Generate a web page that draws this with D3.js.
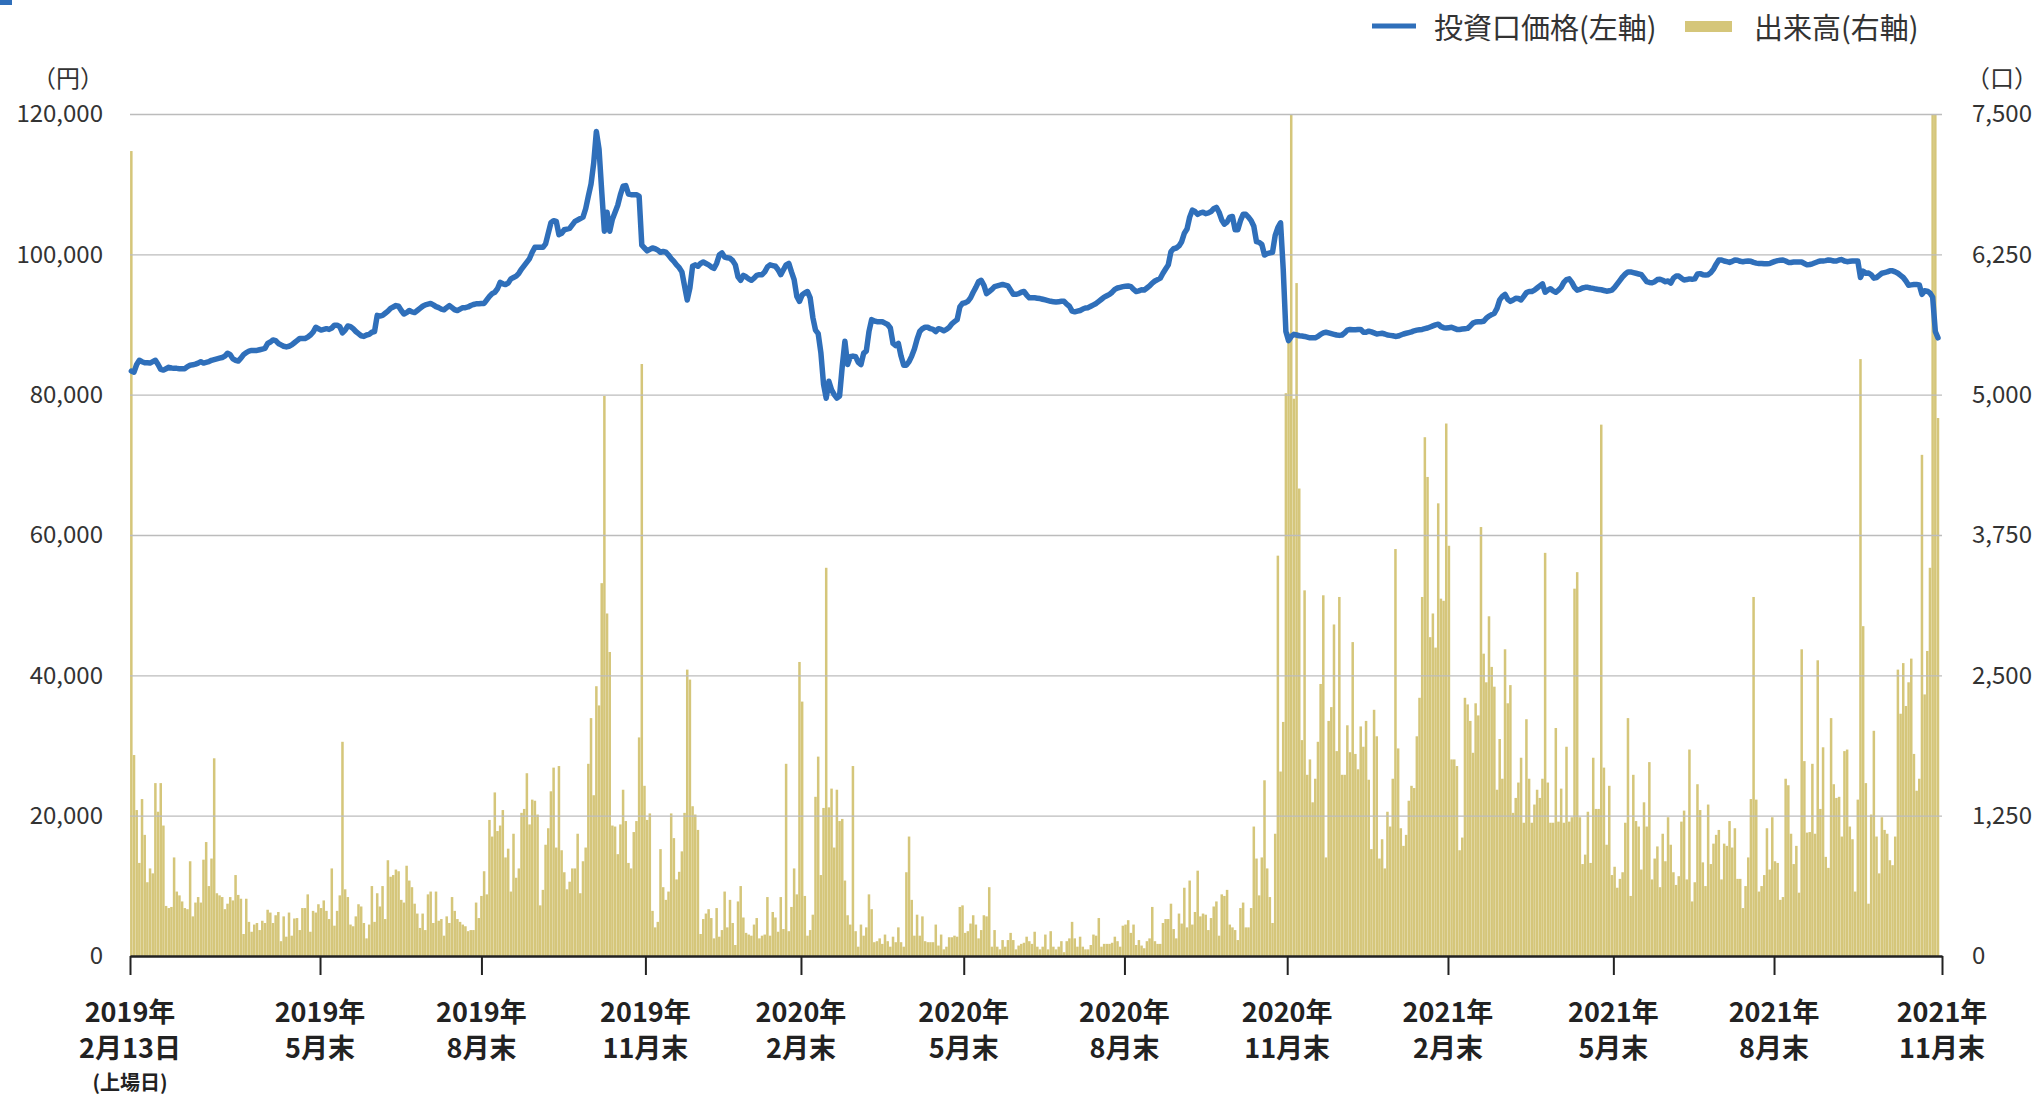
<!DOCTYPE html>
<html><head><meta charset="utf-8">
<script src="https://cdn.jsdelivr.net/npm/d3@7"></script>
<style>body{margin:0;background:#fff;} svg{display:block;}</style>
</head><body><svg id="c" width="2037" height="1096"></svg>
<script>
// ---- data (one entry per trading day, 2019-02-13 .. 2021-11-30) ----
const volume = [
7170,1790,1300,829,1398,1079,657,780,736,1540,
1285,1540,1162,446,427,437,878,574,540,486,
427,417,844,353,476,525,476,858,1015,623,
868,1761,559,540,525,417,466,525,495,721,
544,510,196,510,304,216,280,294,231,314,
294,412,387,294,363,392,132,353,172,387,
181,334,338,231,427,427,549,216,402,387,
461,427,495,402,329,780,270,402,540,1908,
594,525,280,265,353,461,441,294,157,280,
623,304,559,441,623,329,853,706,721,770,
755,500,476,804,672,613,466,378,250,378,
231,549,574,294,
574,314,329,181,353,294,525,402,329,304,
280,265,221,231,231,476,338,535,755,549,
1212,1064,1457,1113,1162,1300,878,956,574,1089,
697,780,1275,1310,1628,1172,1393,1383,1260,451,
589,991,1138,1467,1678,966,1692,942,746,594,
662,780,780,1089,559,844,966,1712,2119,1432,
2403,2232,3321,4988,3051,2708,1162,1153,907,1172,
1481,1202,829,780,1104,1202,1947,5273,1516,1212,
1270,402,255,304,952,613,500,574,1270,1050,
682,750,932,1275,2551,2462,1334,1260,1123,196,
329,378,417,338,157,427,172,231,574,255,
500,294,98,486,
623,343,
206,191,181,280,338,157,181,191,525,181,
392,343,216,525,240,1712,221,437,780,549,
2619,2266,535,181,231,368,1418,1776,721,1319,
3458,1324,1491,966,1481,1202,1221,672,363,280,
1692,221,83,280,181,255,549,417,123,132,
157,108,191,132,83,172,123,255,123,83,
746,1064,500,181,368,181,353,132,123,123,
123,280,93,191,59,83,167,167,181,172,
437,451,206,221,289,363,280,157,231,363,
353,613,83,231,83,59,142,83,142,206,
142,59,93,108,118,172,132,108,216,83,
59,83,191,59,
221,83,
59,83,132,34,132,157,304,157,83,172,
83,59,59,98,191,181,338,83,108,108,
108,118,172,132,83,270,280,319,206,280,
98,142,93,69,132,157,437,132,108,108,
294,329,329,466,240,157,378,289,608,255,
672,280,392,760,353,378,368,231,338,441,
486,181,549,535,589,280,255,231,142,427,
476,255,255,427,1153,868,540,878,1565,780,
525,294,1089,3566,1643,2085,5013,5553,7500,4964,
5994,4164,1923,3257,1614,1751,1369,1579,1908,2423,
3213,878,2094,2217,2953,1825,3198,1614,1614,2055,
1815,2796,1800,1663,
2045,1864,2094,1570,952,2193,1957,868,1040,780,
1285,1153,1579,3625,1849,1138,981,1079,1383,1516,
1496,1957,2300,3198,4621,4267,2840,3051,2747,4032,
3183,3164,4743,3654,1751,1751,1692,942,1055,2300,
2241,2094,1810,2251,2143,3821,2693,2438,3026,2575,
2399,1481,1933,1579,2732,2251,2413,1275,1408,1545,
1766,1187,2109,1579,1187,1349,1481,1408,1579,3591,
1545,1187,1187,2031,1197,1491,1187,1864,1197,1236,
3272,3419,1236,819,903,1285,829,1766,1310,1310,
4733,1678,991,1516,721,795,608,687,746,1187,
2119,535,1614,1202,1153,770,1369,1153,1727,682,
868,976,613,1089,844,1236,
991,746,633,711,1197,1295,682,1839,486,657,
1530,1300,834,623,1349,819,1001,1079,1123,682,
1001,981,1202,966,1138,687,687,427,623,878,
1398,3198,1393,574,623,721,1138,770,1236,844,
829,500,525,1579,1521,1089,819,981,564,2732,
1736,1099,1104,1712,1089,2634,1310,1859,883,785,
2119,1530,1408,1418,1064,1825,1839,1153,1040,574,
1393,5317,2938,1540,466,1260,2006,1064,736,1236,
1123,1089,853,809,1064,2551,2158,2609,2227,2438,
2649,1800,1472,1579,4464,2330,2717,3458,7500,7500,
4792
];
const price = [
83370,83200,84300,84900,84700,84550,84550,84500,84700,84900,
84300,83600,83500,83700,83900,83800,83750,83750,83700,83700,
83700,84000,84200,84250,84350,84500,84700,84500,84600,84700,
84900,85000,85100,85200,85300,85500,85900,85700,85100,84900,
84800,85200,85700,86000,86200,86300,86300,86300,86400,86500,
86600,87300,87500,87800,87700,87300,87100,86900,86800,86900,
87100,87400,87700,88000,88000,88000,88200,88500,88900,89600,
89400,89200,89300,89400,89300,89500,89900,89900,89700,88800,
89200,89800,89700,89400,89000,88700,88400,88300,88500,88600,
88900,89000,91300,91200,91300,91600,91900,92300,92500,92700,
92600,92000,91500,91700,92000,91800,91700,92000,92300,92600,
92800,92900,93000,92800,
92550,92400,92200,92100,92400,92700,92400,92100,92000,92200,
92400,92400,92500,92700,92850,92950,92950,93000,93000,93500,
94000,94400,94600,95100,96000,95800,95700,95900,96500,96700,
96900,97300,97900,98400,98900,99400,100300,101000,101000,101000,
101000,101500,103000,104500,104800,104700,102800,103000,103500,103600,
103700,104200,104700,104900,105100,105300,106500,108300,110000,113000,
117500,115000,109000,103300,106000,103300,105000,106000,107000,108500,
109700,109800,108600,108500,108500,108500,108300,101300,100900,100500,
100700,100900,100800,100600,100300,100400,100300,99900,99400,99000,
98500,98100,97500,95500,93500,95200,98300,98500,98300,98700,
98900,98700,98500,98200,98000,98700,99900,100200,99600,99500,
99450,99100,98500,96800,
96300,97000,96800,96500,96300,96600,97000,97100,97100,97500,
98200,98500,98400,98300,97800,97100,97800,98500,98700,97500,
96400,94000,93300,94200,94500,94700,93800,91000,89200,88700,
86000,81500,79500,81900,80700,80000,79500,79800,84000,87600,
84300,85400,85500,85400,84600,84300,85900,86200,89000,90700,
90500,90400,90400,90400,90200,90000,89500,87300,87000,87300,
85500,84200,84200,84700,85500,86500,87900,89000,89400,89600,
89600,89400,89300,89000,89400,89300,89100,89300,89600,90100,
90400,90700,92500,93000,93100,93300,93800,94600,95300,96100,
96300,95600,94400,94700,95000,95400,95500,95600,95700,95600,
95500,94900,94300,94300,94400,94600,94700,94200,93800,93800,
93800,93750,93700,93600,93500,93400,
93300,93250,93200,93250,93300,93300,92900,92600,91900,91800,
91900,92000,92200,92350,92400,92600,92800,93000,93300,93600,
93900,94100,94300,94600,95000,95200,95300,95400,95450,95500,
95400,95000,94700,94800,94950,94900,95200,95500,95900,96200,
96400,96600,97300,97900,98500,100400,100800,100900,101200,101800,
103000,103600,105300,106300,106100,105700,105900,106000,105800,105900,
106100,106500,106700,106000,104900,104300,104600,105300,105400,103500,
103500,104800,105700,105700,105300,104800,104000,101800,101700,101400,
99900,100100,100200,100300,102700,103800,104500,97900,89000,87700,
88300,88600,88500,88400,88350,88300,88200,88100,88100,88100,
88300,88600,88800,88900,88800,88700,88600,88500,88450,88500,
88800,89200,89300,89250,89250,89300,
89300,88900,88900,89050,88950,88800,88650,88700,88750,88650,
88500,88450,88400,88300,88350,88500,88650,88750,88850,88950,
89100,89200,89250,89300,89400,89500,89650,89800,89950,90050,
89700,89550,89500,89550,89600,89450,89300,89300,89350,89400,
89450,89800,90200,90350,90400,90400,90450,90900,91200,91400,
91600,92300,93500,94000,94300,93600,93300,93500,93750,93700,
93500,94000,94550,94700,94700,94900,95200,95500,95800,94600,
94900,95100,94800,94600,94900,95300,96000,96400,96500,96000,
95300,94900,95000,95200,95300,95300,95200,95150,95050,95000,
94950,94850,94750,94800,94900,95300,95800,96300,96800,97200,
97500,97500,97400,97300,97200,97100,96600,96100,96000,95950,
96100,96400,96450,96300,96100,96200,
95900,96600,96900,96900,96600,96350,96400,96500,96450,96500,
97200,97250,97100,97050,97100,97400,97900,98600,99200,99200,
99050,98950,98850,99000,99200,99150,99000,98950,99000,99050,
99000,98850,98750,98700,98700,98650,98650,98700,98850,99000,
99100,99150,99200,99050,98850,98850,98900,98900,98900,98900,
98700,98500,98550,98650,98800,98950,99050,99050,99100,99200,
99150,99050,99050,99200,99250,99050,98950,99000,99050,99050,
99050,96700,97600,97300,97350,97100,96600,96700,97000,97300,
97400,97500,97650,97650,97500,97300,97000,96700,96200,95600,
95650,95700,95700,95650,94300,94800,94750,94500,93900,89000,
88100
];
// month-end tick positions, measured in trading days from the listing date
const tickIndex = [0, 71.1, 131.5, 192.85, 251.06, 311.96, 372.09, 432.99, 493.15, 555.03, 615.15, 678];
const tickLabels = [
  ["2019年","2月13日","(上場日)"],["2019年","5月末"],["2019年","8月末"],["2019年","11月末"],
  ["2020年","2月末"],["2020年","5月末"],["2020年","8月末"],["2020年","11月末"],
  ["2021年","2月末"],["2021年","5月末"],["2021年","8月末"],["2021年","11月末"]
];
const priceTicks = [0,20000,40000,60000,80000,100000,120000];
const volumeTicks = [0,1250,2500,3750,5000,6250,7500];
const seriesNames = ["投資口価格(左軸)","出来高(右軸)"];
const units = ["（円）","（口）"];

// ---- drawing ----
const svg = d3.select("#c");
const L = 130, R = 1942, T = 114, B = 956;
const colLine = "#2f6fba", colBar = "#d5c67a";
const fontNum = "'Noto Sans CJK JP','Noto Sans',sans-serif";

const x = d3.scaleLinear().domain([0, 678]).range([L, R]);
const yL = d3.scaleLinear().domain([0, 120000]).range([B, T]);
const yR = d3.scaleLinear().domain([0, 7500]).range([B, T]);

svg.append("rect").attr("x",0).attr("y",0).attr("width",12).attr("height",5).attr("fill",colLine);

// bars
const bw = x(1) - x(0);
svg.append("g").selectAll("rect").data(volume).join("rect")
  .attr("x", (d,i) => x(i) + 0.08)
  .attr("width", bw - 0.16)
  .attr("y", d => yR(d))
  .attr("height", d => B - yR(d))
  .attr("fill", colBar);

// gridlines
svg.append("g").selectAll("line").data(priceTicks.filter(d => d > 0)).join("line")
  .attr("x1", L).attr("x2", R)
  .attr("y1", d => yL(d) + 0.5).attr("y2", d => yL(d) + 0.5)
  .attr("stroke", "#bcbcbc").attr("stroke-width", 1.3);

// price line
svg.append("path").datum(price)
  .attr("d", d3.line().x((d,i) => x(i + 0.5)).y(d => yL(d)).curve(d3.curveLinear))
  .attr("fill","none").attr("stroke",colLine).attr("stroke-width",5.5)
  .attr("stroke-linejoin","round").attr("stroke-linecap","round");

// left axis labels
const gl = svg.append("g").attr("transform",`translate(${L},0)`)
  .call(d3.axisLeft(yL).tickValues(priceTicks).tickSize(0).tickPadding(27).tickFormat(d3.format(",")));
gl.select(".domain").remove();
gl.selectAll("text").attr("font-family",fontNum).attr("font-size",24).attr("fill","#333");

// right axis labels
const gr = svg.append("g").attr("transform",`translate(${R},0)`)
  .call(d3.axisRight(yR).tickValues(volumeTicks).tickSize(0).tickPadding(30).tickFormat(d3.format(",")));
gr.select(".domain").remove();
gr.selectAll("text").attr("font-family",fontNum).attr("font-size",24).attr("fill","#333");

// units
svg.append("text").attr("x",104).attr("y",76).attr("text-anchor","end").attr("dominant-baseline","central")
  .attr("font-family",fontNum).attr("font-size",24).attr("fill","#333").text(units[0]);
svg.append("text").attr("x",1966).attr("y",76).attr("text-anchor","start").attr("dominant-baseline","central")
  .attr("font-family",fontNum).attr("font-size",24).attr("fill","#333").text(units[1]);

// bottom axis
const gb = svg.append("g").attr("transform",`translate(0,${B})`)
  .call(d3.axisBottom(x).tickValues(tickIndex).tickSize(19).tickSizeOuter(0).tickFormat(""));
gb.select(".domain").attr("stroke","#222").attr("stroke-width",2.5);
gb.selectAll(".tick line").attr("stroke","#222").attr("stroke-width",2);

// bottom labels
const lineY = [1010, 1046, 1081];
const lineSize = [27, 27, 20];
tickIndex.forEach((t,k) => {
  tickLabels[k].forEach((s,j) => {
    svg.append("text").attr("x", x(t)).attr("y", lineY[j])
      .attr("text-anchor","middle").attr("dominant-baseline","central")
      .attr("font-family",fontNum).attr("font-weight","bold")
      .attr("font-size", lineSize[j]).attr("fill","#222").text(s);
  });
});

// legend
const lg = svg.append("g");
lg.append("line").attr("x1",1372).attr("x2",1416).attr("y1",26).attr("y2",26)
  .attr("stroke",colLine).attr("stroke-width",5);
lg.append("text").attr("x",1434).attr("y",26).attr("dominant-baseline","central")
  .attr("font-family",fontNum).attr("font-size",29).attr("fill","#333").text(seriesNames[0]);
lg.append("rect").attr("x",1685).attr("y",21).attr("width",47).attr("height",11).attr("fill",colBar);
lg.append("text").attr("x",1754).attr("y",26).attr("dominant-baseline","central")
  .attr("font-family",fontNum).attr("font-size",29).attr("fill","#333").text(seriesNames[1]);
</script>
</body></html>
